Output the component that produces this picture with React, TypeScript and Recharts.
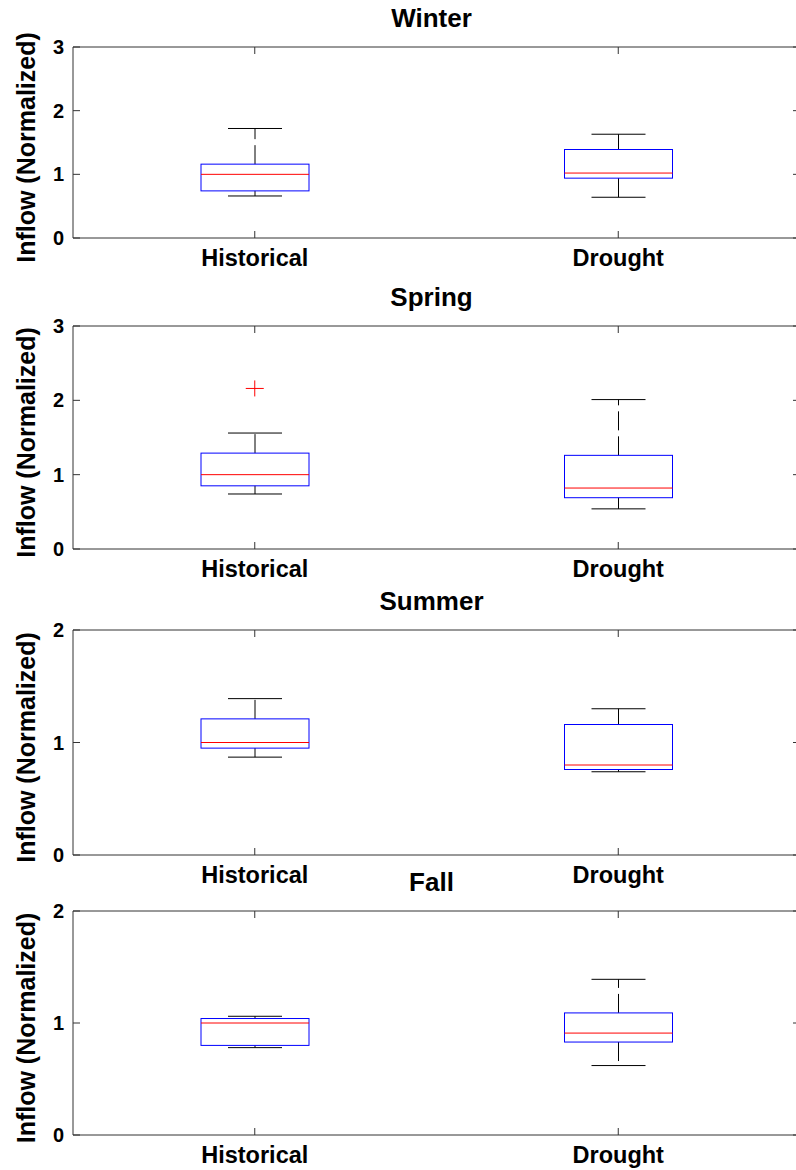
import { ComposedChart, Bar, Scatter, XAxis, YAxis, Label } from "recharts";

const GROUPS = ["Historical", "Drought"];
const SEASONS = ["Winter", "Spring", "Summer", "Fall"];

// per group: [Historical, Drought]
const WINTER_LOW = [0.66, 0.64];
const WINTER_Q1 = [0.74, 0.94];
const WINTER_MEDIAN = [1.0, 1.02];
const WINTER_Q3 = [1.16, 1.39];
const WINTER_HIGH = [1.72, 1.63];
const WINTER_OUTLIER = [null, null];

const SPRING_LOW = [0.74, 0.54];
const SPRING_Q1 = [0.85, 0.69];
const SPRING_MEDIAN = [1.0, 0.82];
const SPRING_Q3 = [1.29, 1.26];
const SPRING_HIGH = [1.56, 2.01];
const SPRING_OUTLIER = [2.16, null];

const SUMMER_LOW = [0.87, 0.74];
const SUMMER_Q1 = [0.95, 0.76];
const SUMMER_MEDIAN = [1.0, 0.8];
const SUMMER_Q3 = [1.21, 1.16];
const SUMMER_HIGH = [1.39, 1.3];
const SUMMER_OUTLIER = [null, null];

const FALL_LOW = [0.78, 0.62];
const FALL_Q1 = [0.8, 0.83];
const FALL_MEDIAN = [1.0, 0.91];
const FALL_Q3 = [1.04, 1.09];
const FALL_HIGH = [1.06, 1.39];
const FALL_OUTLIER = [null, null];

const TICKS_3 = [0, 1, 2, 3];
const TICKS_2 = [0, 1, 2];

const Y_LABEL = "Inflow (Normalized)";

type Row = {
  name: string;
  low: number;
  q1: number;
  median: number;
  q3: number;
  high: number;
  outlier: number | null;
};

function buildRows(
  low: number[],
  q1: number[],
  median: number[],
  q3: number[],
  high: number[],
  outlier: (number | null)[]
): Row[] {
  return GROUPS.map((name, i) => ({
    name,
    low: low[i],
    q1: q1[i],
    median: median[i],
    q3: q3[i],
    high: high[i],
    outlier: outlier[i],
  }));
}

const PANELS = [
  { rows: buildRows(WINTER_LOW, WINTER_Q1, WINTER_MEDIAN, WINTER_Q3, WINTER_HIGH, WINTER_OUTLIER), ticks: TICKS_3 },
  { rows: buildRows(SPRING_LOW, SPRING_Q1, SPRING_MEDIAN, SPRING_Q3, SPRING_HIGH, SPRING_OUTLIER), ticks: TICKS_3 },
  { rows: buildRows(SUMMER_LOW, SUMMER_Q1, SUMMER_MEDIAN, SUMMER_Q3, SUMMER_HIGH, SUMMER_OUTLIER), ticks: TICKS_2 },
  { rows: buildRows(FALL_LOW, FALL_Q1, FALL_MEDIAN, FALL_Q3, FALL_HIGH, FALL_OUTLIER), ticks: TICKS_2 },
];

// plot area top/bottom of each subplot on the page
const LAYOUT = [
  { top: 47, bottom: 238 },
  { top: 326, bottom: 549 },
  { top: 630, bottom: 855 },
  { top: 911, bottom: 1135 },
];

const FONT = '"Liberation Sans", Arial, sans-serif';
const AXIS_COLOR = "#333";
const TOP_SPACE = 47;
const BOTTOM_SPACE = 40;
const CHART_WIDTH = 801;

function BoxShape(props: any) {
  const { x, y, width, height, payload } = props;
  if (!payload || x == null || y == null) return null;
  const top = Math.min(y, y + height);
  const bottom = Math.max(y, y + height);
  const span = payload.high - payload.low;
  const toPx = (v: number) => bottom - ((v - payload.low) / span) * (bottom - top);
  const cx = x + width / 2;
  const cap = width / 4;
  const yQ1 = toPx(payload.q1);
  const yQ3 = toPx(payload.q3);
  const yMed = toPx(payload.median);
  return (
    <g>
      <line x1={cx} x2={cx} y1={yQ3} y2={top} stroke="#000" strokeDasharray="19 6" />
      <line x1={cx} x2={cx} y1={yQ1} y2={bottom} stroke="#000" strokeDasharray="19 6" />
      <line x1={cx - cap} x2={cx + cap} y1={top} y2={top} stroke="#000" />
      <line x1={cx - cap} x2={cx + cap} y1={bottom} y2={bottom} stroke="#000" />
      <rect x={x} y={yQ3} width={width} height={yQ1 - yQ3} fill="none" stroke="#0000ff" />
      <line x1={x} x2={x + width} y1={yMed} y2={yMed} stroke="#ff0000" />
    </g>
  );
}

function PlusShape(props: any) {
  const { cx, cy, payload } = props;
  if (!payload || payload.outlier == null || cx == null || cy == null) return null;
  return (
    <g stroke="#ff0000">
      <line x1={cx - 9} x2={cx + 9} y1={cy} y2={cy} />
      <line x1={cx} x2={cx} y1={cy - 8} y2={cy + 8} />
    </g>
  );
}

function SeasonPanel({ index }: { index: number }) {
  const panel = PANELS[index];
  const layout = LAYOUT[index];
  const plotH = layout.bottom - layout.top;
  const maxY = panel.ticks[panel.ticks.length - 1];

  return (
    <div style={{ position: "absolute", left: 0, top: layout.top - TOP_SPACE }}>
      <ComposedChart
        width={CHART_WIDTH}
        height={TOP_SPACE + plotH + BOTTOM_SPACE}
        data={panel.rows}
        margin={{ top: TOP_SPACE - 1, right: 0, bottom: 0, left: 0 }}
      >
        <XAxis
          dataKey="name"
          height={BOTTOM_SPACE}
          interval={0}
          tickSize={-7}
          tickMargin={18}
          axisLine={{ stroke: AXIS_COLOR }}
          tickLine={{ stroke: AXIS_COLOR }}
          tick={{ fill: "#000", fontSize: 23.5, fontWeight: "bold", fontFamily: FONT }}
        />
        <XAxis
          xAxisId="top"
          dataKey="name"
          orientation="top"
          height={1}
          interval={0}
          tickSize={-7}
          tickFormatter={() => ""}
          axisLine={{ stroke: AXIS_COLOR }}
          tickLine={{ stroke: AXIS_COLOR }}
        >
          <Label
            content={(p: any) => {
              const vb = p.viewBox || {};
              return (
                <text
                  x={vb.x + vb.width / 2 - 5}
                  y={vb.y + vb.height - 20}
                  textAnchor="middle"
                  fill="#000"
                  fontSize={26}
                  fontWeight="bold"
                  fontFamily={FONT}
                >
                  {SEASONS[index]}
                </text>
              );
            }}
          />
        </XAxis>
        <YAxis
          domain={[0, maxY]}
          ticks={panel.ticks}
          allowDataOverflow
          width={73}
          tickSize={-7}
          tickMargin={16}
          axisLine={{ stroke: AXIS_COLOR }}
          tickLine={{ stroke: AXIS_COLOR }}
          tick={{ fill: "#000", fontSize: 20, fontWeight: "bold", fontFamily: FONT }}
        >
          <Label
            content={(p: any) => {
              const vb = p.viewBox || {};
              const cy = vb.y + vb.height / 2 + 5;
              return (
                <text
                  x={26}
                  y={cy}
                  transform={`rotate(-90 26 ${cy})`}
                  textAnchor="middle"
                  dominantBaseline="central"
                  fill="#000"
                  fontSize={25}
                  fontWeight="bold"
                  fontFamily={FONT}
                >
                  {Y_LABEL}
                </text>
              );
            }}
          />
        </YAxis>
        <YAxis
          yAxisId="right"
          orientation="right"
          domain={[0, maxY]}
          ticks={panel.ticks}
          allowDataOverflow
          width={1}
          tickSize={-7}
          tickFormatter={() => ""}
          axisLine={{ stroke: AXIS_COLOR }}
          tickLine={{ stroke: AXIS_COLOR }}
        />
        <Bar
          dataKey={(d: Row) => [d.low, d.high]}
          barSize={108}
          shape={<BoxShape />}
          isAnimationActive={false}
        />
        <Scatter dataKey="outlier" shape={<PlusShape />} isAnimationActive={false} />
      </ComposedChart>
    </div>
  );
}

export default function App() {
  return (
    <div
      style={{
        position: "absolute",
        left: 0,
        top: 0,
        width: 796,
        height: 1170,
        overflow: "hidden",
        background: "#fff",
      }}
    >
      {SEASONS.map((s, i) => (
        <SeasonPanel key={s} index={i} />
      ))}
    </div>
  );
}
